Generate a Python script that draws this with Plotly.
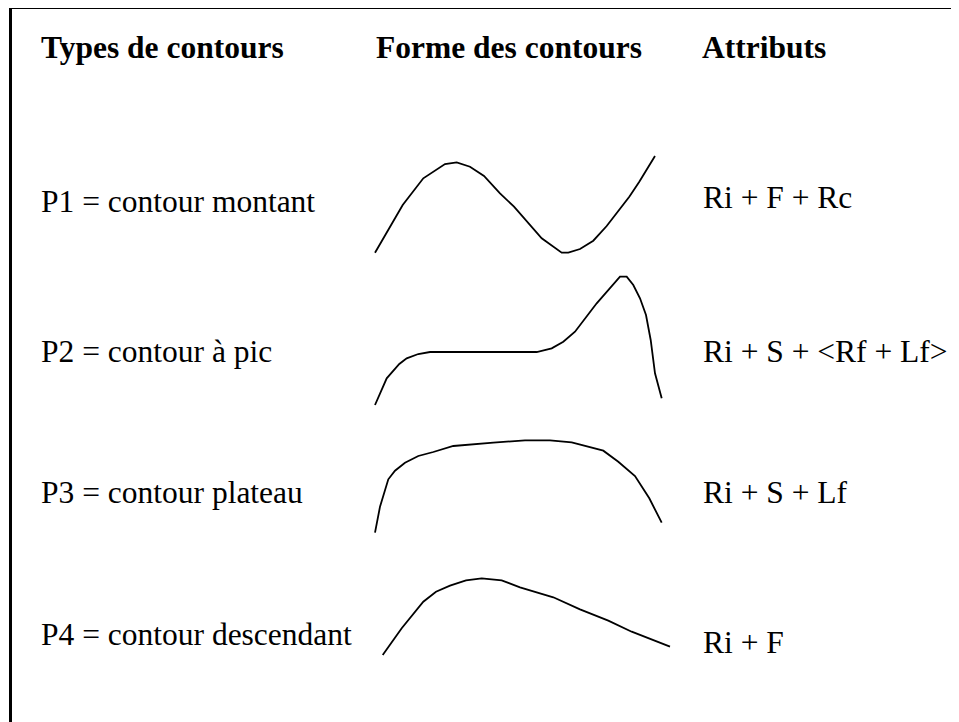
import plotly.graph_objects as go

# en-têtes des colonnes
entetes = ["Types de contours", "Forme des contours", "Attributs"]
entetes_x = [39, 374, 700]

# types de contours et attributs
types = ["P1 = contour montant", "P2 = contour à pic", "P3 = contour plateau", "P4 = contour descendant"]
attributs = ["Ri + F + Rc", "Ri + S + <Rf + Lf>", "Ri + S + Lf", "Ri + F"]
lignes_y = [201, 351, 492, 634]
attributs_y = [197, 351, 492, 642]

# formes des contours (en pixels)
p1_x = [375, 402.7, 423.3, 445, 456.7, 470, 484, 500, 514, 528.3, 541.7, 561.7, 568.3, 580, 593.3, 606.7, 629.3, 639.3, 655]
p1_y = [252.7, 205, 178.3, 164, 162.3, 166.7, 176, 193.3, 206.7, 223.3, 238.3, 252.7, 252.7, 249, 240.7, 226, 196.7, 181.7, 156]

p2_x = [375, 386.7, 399.3, 406.7, 418.3, 430, 536.7, 551.7, 563.3, 575, 596.7, 620, 626.7, 633.3, 640, 646, 650.7, 655, 661.7]
p2_y = [405, 378.3, 364, 358.3, 354, 352, 352, 348.3, 341.7, 331.7, 303.3, 276.7, 276.7, 285, 298.3, 315, 340, 373.3, 398.3]

p3_x = [375, 380, 388.3, 395, 405, 418.3, 433.3, 453.3, 493.3, 525, 550, 571.7, 603.3, 618.3, 635, 649.3, 661.7]
p3_y = [532.7, 506.7, 479.3, 470.7, 462.7, 456, 452, 446, 442.7, 440.3, 440.3, 442.3, 450.7, 461.7, 476, 498.3, 522.7]

p4_x = [382.7, 401.7, 423.3, 436, 450, 466, 481.7, 501.7, 520, 553.3, 580, 608.3, 631.7, 670]
p4_y = [655, 628.3, 601.7, 591.7, 585.7, 580.3, 578.3, 580.3, 587.3, 597.3, 609.3, 620.7, 631.7, 646.7]

fig = go.Figure()

for xs, ys in [(p1_x, p1_y), (p2_x, p2_y), (p3_x, p3_y), (p4_x, p4_y)]:
    fig.add_trace(go.Scatter(x=xs, y=ys, mode="lines", line=dict(color="black", width=1.8),
                             hoverinfo="skip", showlegend=False))

police = "Liberation Serif"

for texte, x in zip(entetes, entetes_x):
    fig.add_annotation(x=x, y=47, text="<b>" + texte + "</b>", showarrow=False,
                       xanchor="left", yanchor="middle", font=dict(family=police, size=31.5, color="black"))

for texte, y in zip(types, lignes_y):
    fig.add_annotation(x=39, y=y, text=texte, showarrow=False,
                       xanchor="left", yanchor="middle", font=dict(family=police, size=31.5, color="black"))

for texte, y in zip(attributs, attributs_y):
    fig.add_annotation(x=701, y=y, text=texte.replace("<", "&lt;").replace(">", "&gt;"), showarrow=False,
                       xanchor="left", yanchor="middle", font=dict(family=police, size=31.5, color="black"))

# cadre (haut et gauche)
fig.add_shape(type="line", x0=9, x1=975, y0=7.5, y1=7.5, line=dict(color="black", width=3))
fig.add_shape(type="line", x0=10.5, x1=10.5, y0=6, y1=740, line=dict(color="black", width=3))

# la page a une marge de 8 px : on décale les axes pour compenser
fig.update_xaxes(range=[8, 967], visible=False)
fig.update_yaxes(range=[730, 8], visible=False)
fig.update_layout(width=959, height=722, margin=dict(l=0, r=0, t=0, b=0),
                  plot_bgcolor="white", paper_bgcolor="white")

fig.write_html("out.html")
